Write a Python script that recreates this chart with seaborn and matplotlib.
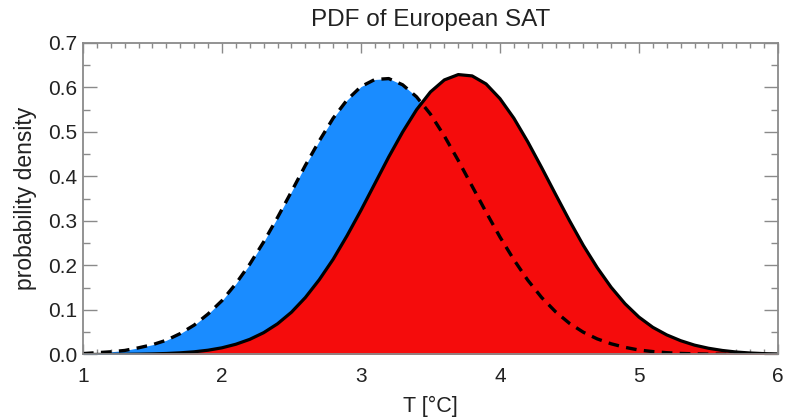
import matplotlib.pyplot as plt
import numpy as np
import pandas as pd
import seaborn as sns
from matplotlib.ticker import MultipleLocator

# temperature grid [deg C] and densities
temps = np.round(np.arange(1.0, 6.01, 0.1), 1)

pdf_blue = [
    0.002, 0.004, 0.006, 0.009, 0.015, 0.022, 0.032, 0.047, 0.066, 0.091,
    0.121, 0.159, 0.203, 0.253, 0.308, 0.366, 0.425, 0.480, 0.531, 0.572,
    0.602, 0.618, 0.620, 0.606, 0.579, 0.540, 0.491, 0.436, 0.378, 0.320,
    0.264, 0.213, 0.167, 0.128, 0.096, 0.070, 0.050, 0.035, 0.024, 0.016,
    0.010, 0.0065, 0.004, 0.0024, 0.0014, 0.0008, 0.0005, 0.0003, 0.0001, 0.0001,
    0.0,
]
pdf_red = [
    0.0001, 0.0001, 0.0002, 0.0004, 0.0007, 0.0013, 0.0022, 0.0037, 0.006, 0.0096,
    0.015, 0.023, 0.034, 0.049, 0.069, 0.095, 0.128, 0.168, 0.214, 0.267,
    0.324, 0.384, 0.444, 0.500, 0.550, 0.590, 0.617, 0.629, 0.626, 0.608,
    0.575, 0.531, 0.478, 0.420, 0.360, 0.301, 0.245, 0.195, 0.151, 0.114,
    0.084, 0.061, 0.044, 0.031, 0.021, 0.014, 0.009, 0.0055, 0.0033, 0.0019,
    0.001,
]

df = pd.DataFrame({"T": temps, "blue": pdf_blue, "red": pdf_red})

sns.set_theme(style="ticks")
plt.rcParams["font.family"] = ["Liberation Sans", "DejaVu Sans"]

fig = plt.figure(figsize=(7.85, 4.19), dpi=100)
ax = fig.add_axes([0.1057, 0.154, 0.8853, 0.7434])

ax.fill_between(df["T"], 0, df["blue"], color="#1a8cff", lw=0, zorder=1)
ax.fill_between(df["T"], 0, df["red"], color="#f50c0c", lw=0, zorder=2)
sns.lineplot(data=df, x="T", y="blue", ax=ax, color="black", lw=2.4, zorder=3)
ax.lines[-1].set_dashes([3.2, 2.2])
sns.lineplot(data=df, x="T", y="red", ax=ax, color="black", lw=2.3, zorder=4)

ax.set_xlim(1, 6)
ax.set_ylim(0, 0.7)
ax.xaxis.set_major_locator(MultipleLocator(1))
ax.xaxis.set_minor_locator(MultipleLocator(0.1))
ax.yaxis.set_major_locator(MultipleLocator(0.1))
ax.yaxis.set_minor_locator(MultipleLocator(0.05))
ax.yaxis.set_major_formatter(plt.FormatStrFormatter("%.1f"))
ax.xaxis.set_major_formatter(plt.FormatStrFormatter("%d"))

axis_grey = "#8a8a8a"
for side in ax.spines.values():
    side.set_color(axis_grey)
    side.set_linewidth(1.3)
    side.set_zorder(5)
ax.tick_params(which="both", direction="in", top=True, right=True,
               color=axis_grey, width=1.0, labelsize=15, labelcolor="#222222")
ax.tick_params(axis="y", which="major", length=10, pad=4)
ax.tick_params(axis="y", which="minor", length=5)
ax.tick_params(axis="x", which="major", length=7, pad=9)
ax.tick_params(axis="x", which="minor", length=3.5)

ax.set_title("PDF of European SAT", fontsize=17.5, color="#222222", pad=12)
ax.set_xlabel("T [°C]", fontsize=15.5, color="#222222", labelpad=7)
ax.set_ylabel("probability density", fontsize=16.5, color="#222222", labelpad=8)

fig.savefig("out.png", dpi=100)
plt.close()
